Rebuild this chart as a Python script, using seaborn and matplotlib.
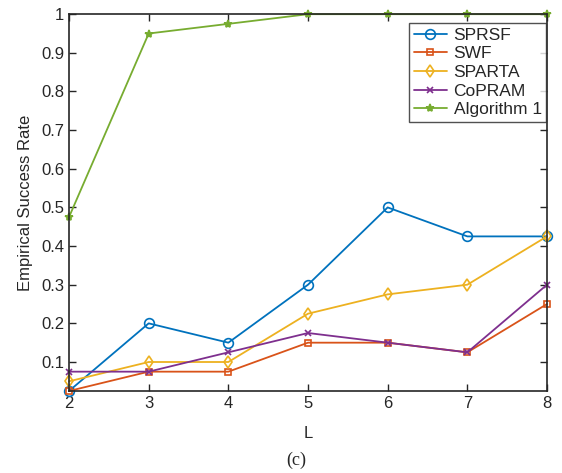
import matplotlib
matplotlib.use('Agg')
import matplotlib.pyplot as plt
import seaborn as sns
import pandas as pd

L = [2, 3, 4, 5, 6, 7, 8]
sprsf = [0.025, 0.2, 0.15, 0.3, 0.5, 0.425, 0.425]
swf = [0.025, 0.075, 0.075, 0.15, 0.15, 0.125, 0.25]
sparta = [0.05, 0.1, 0.1, 0.225, 0.275, 0.3, 0.425]
copram = [0.075, 0.075, 0.125, 0.175, 0.15, 0.125, 0.3]
alg1 = [0.475, 0.95, 0.975, 1.0, 1.0, 1.0, 1.0]

names = ["SPRSF", "SWF", "SPARTA", "CoPRAM", "Algorithm 1"]
series = [sprsf, swf, sparta, copram, alg1]
colors = ["#0072BD", "#D95319", "#EDB120", "#7E2F8E", "#77AC30"]
markers = ["o", "s", "d", "x", "*"]
msizes = [7, 5, 6, 5, 6]

sns.set_style("ticks")
plt.rcParams['font.family'] = ['Liberation Sans', 'DejaVu Sans']

fig = plt.figure(figsize=(5.62, 4.73), dpi=100)
ax = fig.add_axes([0.1228, 0.1734, 0.8505, 0.7966])

for name, vals, c, m, ms in zip(names, series, colors, markers, msizes):
    df = pd.DataFrame({"L": L, "rate": vals})
    fill = c if m == "*" else "none"
    sns.lineplot(data=df, x="L", y="rate", ax=ax, color=c, marker=m,
                 markersize=ms, markerfacecolor=fill, markeredgecolor=c,
                 markeredgewidth=1.2, linewidth=1.3, label=name, clip_on=False)

ax.set_xlim(2, 8)
ax.set_ylim(0.025, 1)
ax.set_xticks(L)
ax.set_yticks([0.1, 0.2, 0.3, 0.4, 0.5, 0.6, 0.7, 0.8, 0.9, 1.0])
ax.set_yticklabels(["0.1", "0.2", "0.3", "0.4", "0.5", "0.6", "0.7", "0.8", "0.9", "1"])
ax.tick_params(direction="in", top=True, right=True, length=5, width=1,
               labelsize=12, colors="#262626")
for s in ax.spines.values():
    s.set_linewidth(1.2)
    s.set_color("#262626")
ax.set_xlabel("L", fontsize=12, color="#262626", labelpad=11)
ax.set_ylabel("Empirical Success Rate", fontsize=12, color="#262626", labelpad=6)

leg = ax.legend(loc="upper right", bbox_to_anchor=(0.998, 0.976), fontsize=12.5,
                frameon=True, fancybox=False, edgecolor="#262626",
                handlelength=1.9, borderpad=0.25, labelspacing=0.2,
                handletextpad=0.4, borderaxespad=0.0)
leg.get_frame().set_linewidth(1.0)

fig.text(0.528, 0.008, "(c)", fontsize=13, family=["Liberation Serif", "DejaVu Serif"],
         ha="center", va="bottom")

fig.savefig("out.png", dpi=100)
